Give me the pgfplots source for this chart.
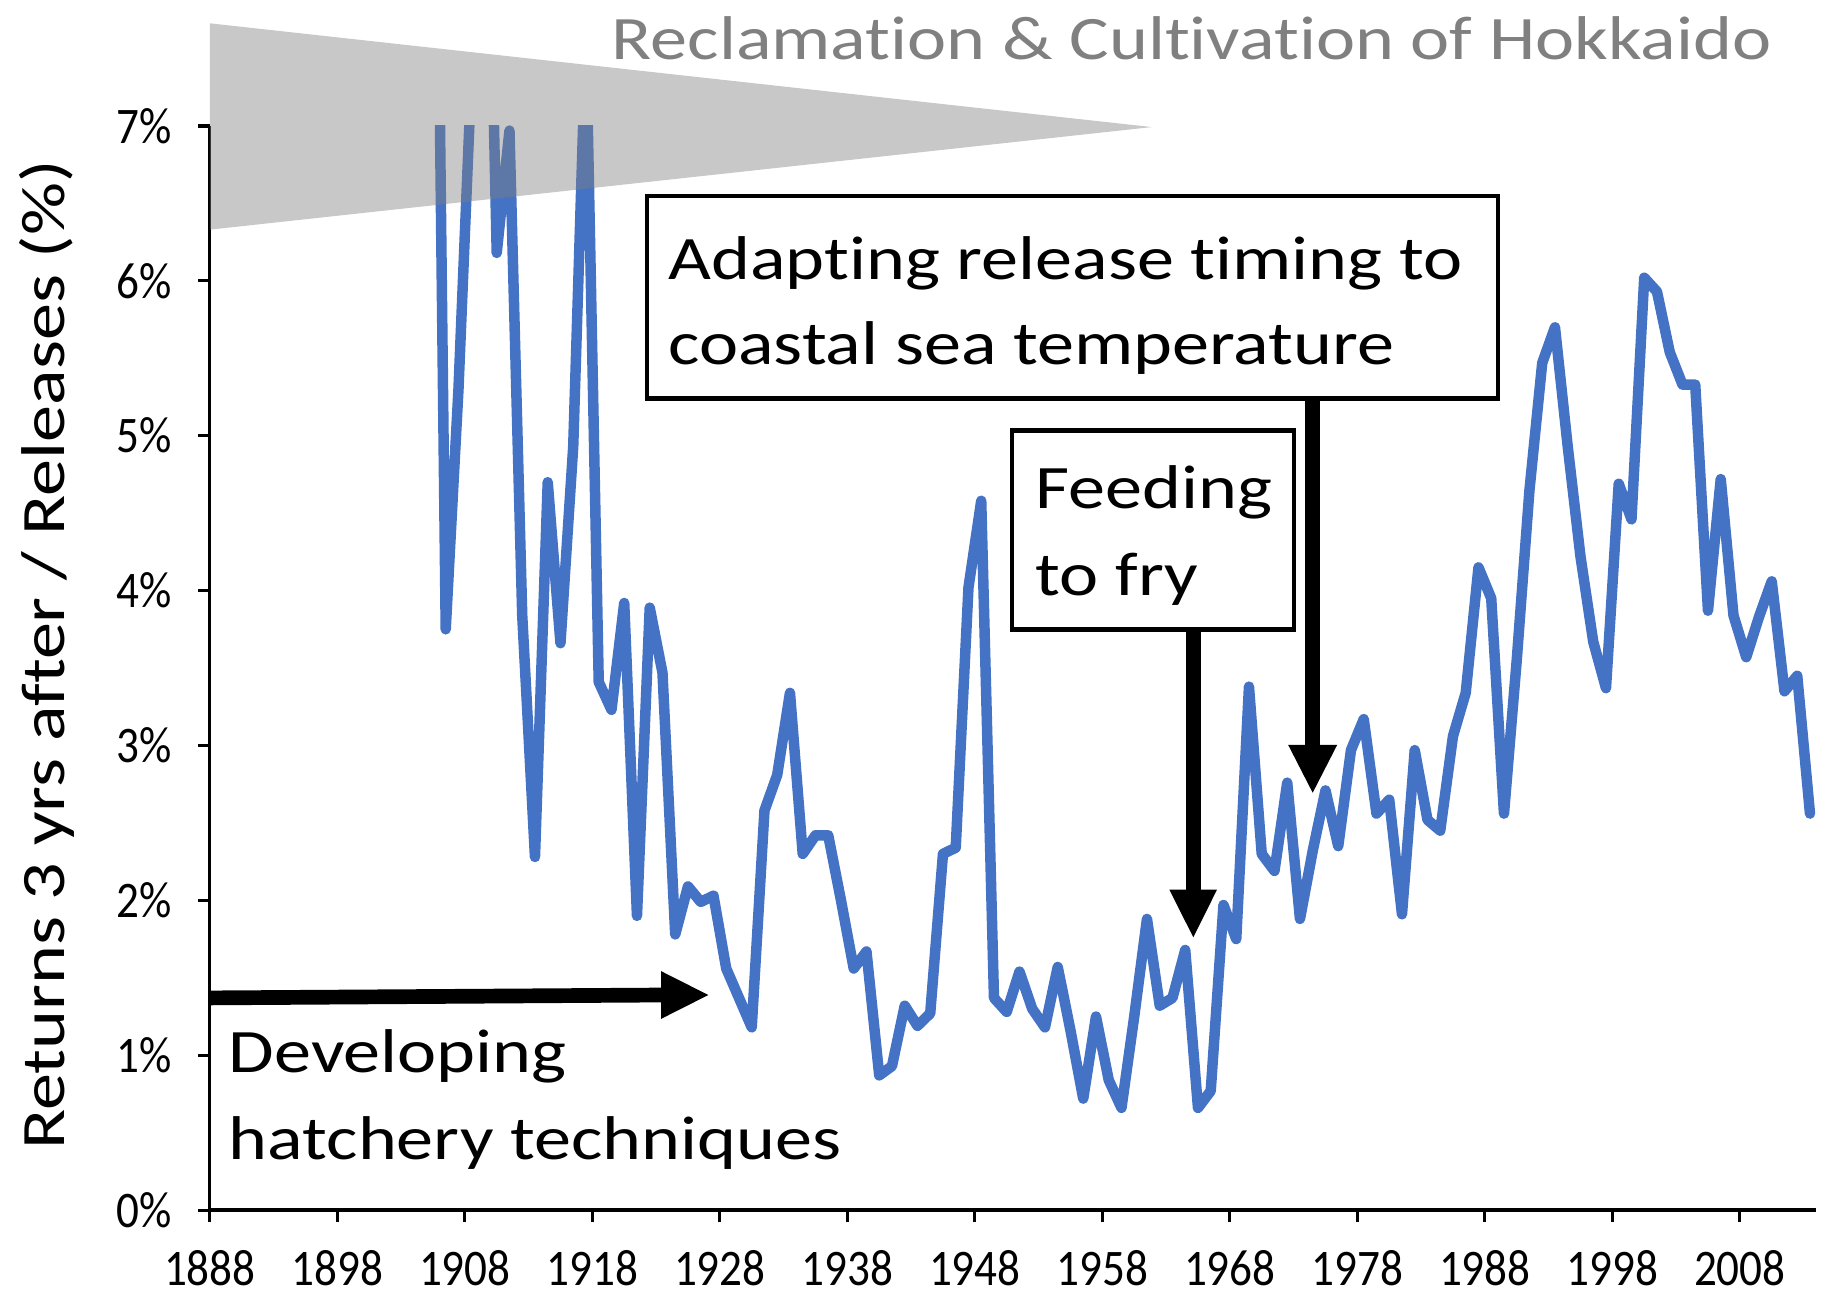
\documentclass[border=0pt]{standalone}
\usepackage{fontspec}
\setmainfont{Carlito}[Ligatures={NoCommon}]
\usepackage{pgfplots}
\pgfplotsset{compat=1.18}
\definecolor{lineblue}{RGB}{68,114,196}
\definecolor{titlegray}{RGB}{128,128,128}
\newcommand\tl[1]{\scalebox{0.88}[1]{#1}}
\newcommand\bg[1]{\scalebox{1.2}[1]{#1}}
\newcommand\bigf{\fontsize{26.5bp}{30bp}\selectfont}
\begin{document}
\begin{tikzpicture}
\path[use as bounding box] (0,0) rectangle (784bp,-558bp);
\begin{axis}[
  at={(90bp,-519bp)}, anchor=south west,
  scale only axis, width=689bp, height=465bp,
  xmin=1888, xmax=2014, ymin=0, ymax=7,
  axis x line*=bottom, axis y line*=left,
  x axis line style={line width=2bp},
  y axis line style={line width=1.4bp},
  xtick={1888,1898,...,2008},
  xticklabels={\tl{1888},\tl{1898},\tl{1908},\tl{1918},\tl{1928},\tl{1938},\tl{1948},\tl{1958},\tl{1968},\tl{1978},\tl{1988},\tl{1998},\tl{2008}},
  ytick={0,1,...,7},
  yticklabels={\tl{0\%},\tl{1\%},\tl{2\%},\tl{3\%},\tl{4\%},\tl{5\%},\tl{6\%},\tl{7\%}},
  tick align=outside, major tick length=5bp,
  tick style={black, line width=1.4bp},
  ticklabel style={font=\fontsize{22bp}{24bp}\selectfont},
  xticklabel style={anchor=north, yshift=-11bp, inner sep=1bp},
  yticklabel style={anchor=east, xshift=-8bp},
  ylabel={\bg{Returns 3 yrs after / Releases (\%)}},
  ylabel style={font=\bigf, at={(axis description cs:-0.1016,0.512)}, anchor=center},
]
\addplot[color=lineblue, line width=4.5bp, line join=round, line cap=round] coordinates {
(1905.5,11) (1906.5,3.75) (1907.5,5.3) (1908.5,7.3) (1909.5,10) (1910.5,6.18)
(1911.5,6.97) (1912.5,3.84) (1913.5,2.28) (1914.5,4.70) (1915.5,3.66) (1916.5,4.93)
(1917.5,7.6) (1918.5,3.41) (1919.5,3.23) (1920.5,3.92) (1921.5,1.90) (1922.5,3.89)
(1923.5,3.47) (1924.5,1.78) (1925.5,2.09) (1926.5,1.99) (1927.5,2.03) (1928.5,1.56)
(1929.5,1.37) (1930.5,1.18) (1931.5,2.58) (1932.5,2.81) (1933.5,3.34) (1934.5,2.30)
(1935.5,2.42) (1936.5,2.42) (1937.5,2.00) (1938.5,1.56) (1939.5,1.67) (1940.5,0.87)
(1941.5,0.93) (1942.5,1.32) (1943.5,1.19) (1944.5,1.27) (1945.5,2.30) (1946.5,2.34)
(1947.5,4.02) (1948.5,4.58) (1949.5,1.37) (1950.5,1.28) (1951.5,1.54) (1952.5,1.30)
(1953.5,1.18) (1954.5,1.57) (1955.5,1.16) (1956.5,0.72) (1957.5,1.25) (1958.5,0.84)
(1959.5,0.66) (1960.5,1.25) (1961.5,1.88) (1962.5,1.32) (1963.5,1.37) (1964.5,1.68)
(1965.5,0.66) (1966.5,0.77) (1967.5,1.97) (1968.5,1.75) (1969.5,3.38) (1970.5,2.30)
(1971.5,2.19) (1972.5,2.76) (1973.5,1.88) (1974.5,2.32) (1975.5,2.71) (1976.5,2.35)
(1977.5,2.97) (1978.5,3.17) (1979.5,2.56) (1980.5,2.65) (1981.5,1.91) (1982.5,2.97)
(1983.5,2.52) (1984.5,2.45) (1985.5,3.06) (1986.5,3.34) (1987.5,4.15) (1988.5,3.95)
(1989.5,2.56) (1990.5,3.55) (1991.5,4.65) (1992.5,5.47) (1993.5,5.70) (1994.5,4.93)
(1995.5,4.22) (1996.5,3.67) (1997.5,3.37) (1998.5,4.69) (1999.5,4.46) (2000.5,6.02)
(2001.5,5.93) (2002.5,5.54) (2003.5,5.33) (2004.5,5.33) (2005.5,3.87) (2006.5,4.72)
(2007.5,3.84) (2008.5,3.57) (2009.5,3.83) (2010.5,4.06) (2011.5,3.35) (2012.5,3.45)
(2013.5,2.56)
};
\end{axis}
\begin{scope}[x=0.5bp,y=-0.5bp]
% gray triangle
\fill[titlegray, fill opacity=0.43] (180,20) -- (988,109) -- (180,197) -- cycle;
\node[anchor=base east, text=titlegray, font=\bigf, inner sep=0pt] at (1520,51) {\bg{Reclamation \& Cultivation of Hokkaido}};
% box 1
\draw[line width=2bp, fill=white] (555,168) rectangle (1285,342);
\node[anchor=base west, font=\bigf, inner sep=0pt] at (573,240) {\bg{Adapting release timing to}};
\node[anchor=base west, font=\bigf, inner sep=0pt] at (573,313) {\bg{coastal sea temperature}};
\fill (1119.7,342) rectangle (1132.3,640);
\fill (1105,639) -- (1147,639) -- (1126,680) -- cycle;
% box 2
\draw[line width=2bp, fill=white] (868,369) rectangle (1110,540);
\node[anchor=base west, font=\bigf, inner sep=0pt] at (888,436) {\bg{Feeding}};
\node[anchor=base west, font=\bigf, inner sep=0pt] at (888,511) {\bg{to fry}};
\fill (1017.3,540) rectangle (1029.9,764);
\fill (1003,763) -- (1044,763) -- (1023.6,804) -- cycle;
% arrow 3
\fill (180,849.7) -- (568,847.2) -- (568,859.8) -- (180,862.3) -- cycle;
\fill (567,833) -- (607.6,853.5) -- (567,874) -- cycle;
\node[anchor=base west, font=\bigf, inner sep=0pt] at (196,920) {\bg{Developing}};
\node[anchor=base west, font=\bigf, inner sep=0pt] at (196,995) {\bg{hatchery techniques}};
\end{scope}
\end{tikzpicture}
\end{document}
